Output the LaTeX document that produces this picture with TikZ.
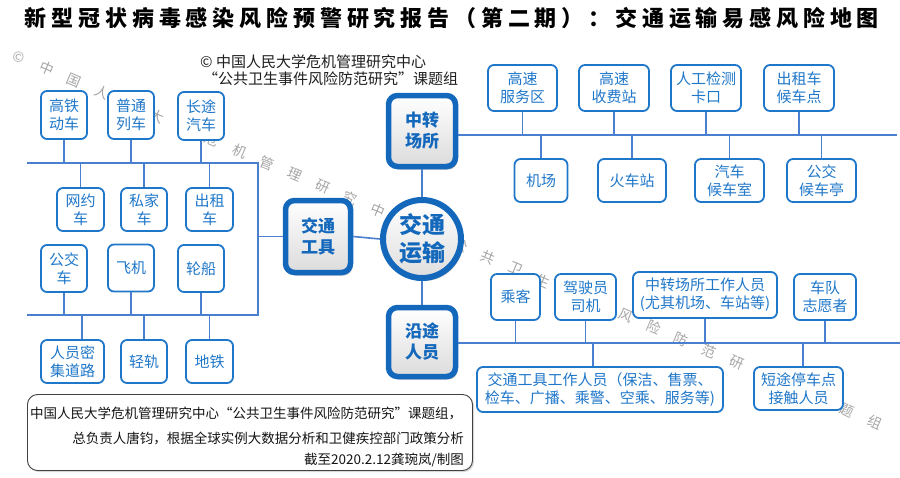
\documentclass[tikz,border=0pt]{standalone}
\usepackage{fontspec}
\setmainfont{Noto Sans CJK SC}
\usetikzlibrary{shadows}
\definecolor{bblue}{HTML}{1F77C9}
\definecolor{lblue}{HTML}{4A7FD0}
\definecolor{hblue}{HTML}{1468BC}
\definecolor{wmgray}{HTML}{A6A6A6}
\begin{document}
\begin{tikzpicture}[x=1pt,y=-1pt,
  bx/.style={draw=bblue, line width=1.8pt, rounded corners=6pt, fill=white, inner sep=0pt, align=center, text=bblue, font=\fontsize{15}{18}\selectfont},
  hubbox/.style={draw=hblue, line width=5.5pt, rounded corners=9pt, top color=white, bottom color=black!14, inner sep=0pt, align=center, text=hblue, font=\bfseries\fontsize{17}{21}\selectfont, drop shadow={opacity=0.5, shadow xshift=2pt, shadow yshift=-3pt}},
  hubcirc/.style={circle, draw=hblue, line width=6pt, top color=white, bottom color=black!13, inner sep=0pt, align=center, text=hblue, font=\bfseries\fontsize{23}{28}\selectfont, drop shadow={opacity=0.5, shadow xshift=2pt, shadow yshift=-3pt}},
  conn/.style={draw=lblue, line width=1.6pt},
  wmk/.style={text=wmgray, rotate=-23, inner sep=0pt, font=\fontsize{14}{14}\selectfont},
  cpt/.style={anchor=west, inner sep=0pt, text=black!88, font=\fontsize{15}{15}\selectfont},
  infot/.style={inner sep=0pt, text=black!92, font=\fontsize{13.5}{13.5}\selectfont}
]
\useasboundingbox[fill=white] (0,0) rectangle (900,477);

% watermark (only the characters that show between the boxes)
\foreach \i/\c in {0/©,1/中,2/国,3/人,5/大,7/危,8/机,9/管,10/理,11/研,12/究,13/中,16/公,17/共,18/卫,19/生,22/风,23/险,24/防,25/范,26/研,30/题,31/组}
  \node[wmk] (wm\i) at ({19+27.6*\i},{57+11.77*\i}) {\c};

% title
\node[inner sep=0pt, font=\bfseries\fontsize{22}{22}\selectfont\addfontfeature{LetterSpace=22}] (title) at (452,18) {新型冠状病毒感染风险预警研究报告（第二期）：交通运输易感风险地图};

% copyright
\node[cpt] (c1) at (200,62) {© 中国人民大学危机管理研究中心};
\node[cpt] (c2) at (203,79) {“公共卫生事件风险防范研究”课题组};

% hub
\node[hubcirc, minimum size=78] (hub) at (422,239) {交通\\运输};
\node[hubbox, minimum width=65, minimum height=72] (jtgj) at (318,236.5) {交通\\工具};
\node[hubbox, minimum width=67, minimum height=71] (zzcs) at (422,131) {中转\\场所};
\node[hubbox, minimum width=67, minimum height=69] (ytry) at (422,342) {沿途\\人员};

% left boxes
\node[bx, minimum width=46, minimum height=48] (gtdc) at (64,115) {高铁\\动车};
\node[bx, minimum width=46, minimum height=48] (ptlc) at (131,115) {普通\\列车};
\node[bx, minimum width=46, minimum height=48] (ctqc) at (201,116) {长途\\汽车};
\node[bx, minimum width=47, minimum height=43] (wyc) at (80.5,209.5) {网约\\车};
\node[bx, minimum width=46, minimum height=43] (sjc) at (144,209.5) {私家\\车};
\node[bx, minimum width=47, minimum height=43] (czc) at (209.5,209.5) {出租\\车};
\node[bx, minimum width=46, minimum height=47] (gjc) at (64,268.5) {公交\\车};
\node[bx, minimum width=46, minimum height=47] (fj) at (131,268) {飞机};
\node[bx, minimum width=46, minimum height=47] (lc) at (201,268.5) {轮船};
\node[bx, minimum width=63, minimum height=43] (rymj) at (72.5,361.5) {人员密\\集道路};
\node[bx, minimum width=46, minimum height=43] (qg) at (144,361.5) {轻轨};
\node[bx, minimum width=47, minimum height=43] (dt) at (209.5,361.5) {地铁};

% right top boxes
\node[bx, minimum width=69, minimum height=46] (gsfw) at (522.5,88) {高速\\服务区};
\node[bx, minimum width=70, minimum height=46] (gssf) at (614,88) {高速\\收费站};
\node[bx, minimum width=70, minimum height=46] (rgjc) at (706,88) {人工检测\\卡口};
\node[bx, minimum width=70, minimum height=46] (czhc) at (799,88) {出租车\\候车点};
\node[bx, minimum width=53, minimum height=43] (jc) at (541,180.5) {机场};
\node[bx, minimum width=68, minimum height=43] (hcz) at (632,180.5) {火车站};
\node[bx, minimum width=69, minimum height=43] (qchc) at (729.5,180.5) {汽车\\候车室};
\node[bx, minimum width=69, minimum height=43] (gjhc) at (821.5,180.5) {公交\\候车亭};

% right bottom boxes
\node[bx, minimum width=49, minimum height=46] (ck) at (515.5,297) {乘客};
\node[bx, minimum width=61, minimum height=46] (jsy) at (585.5,297) {驾驶员\\司机};
\node[bx, minimum width=144, minimum height=46] (zzry) at (705,295) {中转场所工作人员\\(尤其机场、车站等)};
\node[bx, minimum width=62, minimum height=46] (cdzy) at (825,297) {车队\\志愿者};
\node[bx, minimum width=246, minimum height=45] (jtry) at (600,389.5) {交通工具工作人员（保洁、售票、\\检车、广播、乘警、空乘、服务等)};
\node[bx, minimum width=89, minimum height=43] (dtry) at (798.5,388.5) {短途停车点\\接触人员};

% bus coordinates
\coordinate (L1a) at (27,163);
\coordinate (L1b) at (258,163);
\coordinate (L2a) at (27,315);
\coordinate (L2b) at (258,315);
\coordinate (R1e) at (897,135);
\coordinate (R2e) at (900,343);

% connectors
\draw[conn] (zzcs.south) -- (hub.north);
\draw[conn] (hub.south) -- (ytry.north);
\draw[conn] (jtgj.east) -- (hub.west);
\draw[conn] (jtgj.west) -- (jtgj.west -| L1b);
\draw[conn] (L1a) -- (L1b) -- (L2b) -- (L2a);
\draw[conn] (zzcs.east |- R1e) -- (R1e);
\draw[conn] (ytry.east |- R2e) -- (R2e);

\foreach \b in {gtdc,ptlc,ctqc} \draw[conn] (\b.south) -- (\b.south |- L1a);
\foreach \b in {wyc,sjc,czc} \draw[conn] (\b.north) -- (\b.north |- L1a);
\foreach \b in {gjc,fj,lc} \draw[conn] (\b.south) -- (\b.south |- L2a);
\foreach \b in {qg,dt} \draw[conn] (\b.north) -- (\b.north |- L2a);
\draw[conn] ([shift={(9.5,0)}]rymj.north) -- ([shift={(9.5,0)}]rymj.north |- L2a);
\foreach \b in {gsfw,gssf,rgjc,czhc} \draw[conn] (\b.south) -- (\b.south |- R1e);
\foreach \b in {jc,hcz,qchc,gjhc} \draw[conn] (\b.north) -- (\b.north |- R1e);
\foreach \b in {ck,jsy,zzry,cdzy} \draw[conn] (\b.south) -- (\b.south |- R2e);
\draw[conn] ([shift={(-7,0)}]jtry.north) -- ([shift={(-7,0)}]jtry.north |- R2e);
\draw[conn] ([shift={(4.5,0)}]dtry.north) -- ([shift={(4.5,0)}]dtry.north |- R2e);

% info box
\node[draw=black!75, line width=0.9pt, rounded corners=10pt, minimum width=445, minimum height=76, fill=white, drop shadow={opacity=0.3, shadow xshift=1.5pt, shadow yshift=-1.5pt}] (info) at (250,432.5) {};
\node[infot, anchor=west] (i1) at (30,413) {中国人民大学危机管理研究中心“公共卫生事件风险防范研究”课题组，};
\node[infot, anchor=east] (i2) at (464,438) {总负责人唐钧，根据全球实例大数据分析和卫健疾控部门政策分析};
\node[infot, anchor=east] (i3) at (464,460) {截至2020.2.12龚琬岚/制图};
\end{tikzpicture}
\end{document}
